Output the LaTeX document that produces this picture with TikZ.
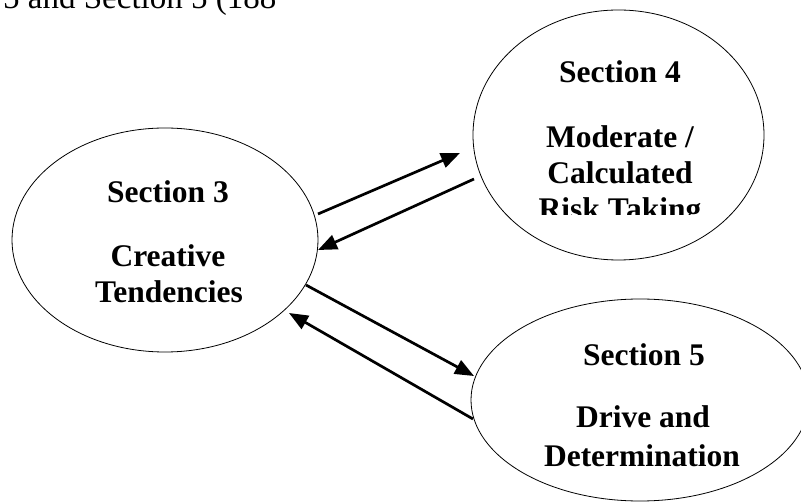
\documentclass[tikz,border=0pt]{standalone}
\usepackage{fontspec}
\setmainfont{Liberation Serif}
\usetikzlibrary{shapes.geometric,arrows.meta}
\tikzset{
  secbox/.style={ellipse, draw, line width=0.8pt, inner sep=0pt, outer sep=0pt},
  secline/.style={anchor=base, inner sep=0pt, font=\fontsize{31.5}{36}\selectfont\bfseries},
  link/.style={line width=2.7pt, -{Triangle[length=19pt,width=15pt]}, shorten >=0pt},
  toptext/.style={anchor=base west, inner sep=0pt, font=\fontsize{33}{38}\selectfont}
}
\begin{document}
\begin{tikzpicture}[x=1pt,y=-1pt]
\clip (0,0) rectangle (801,502);
\fill[white] (0,0) rectangle (801,502);

% caption, cut by the top edge as in the reference
\node[toptext] (cap) at (3,9) {5 and Section 5 (188};

% ellipses
\node[secbox, minimum width=306pt, minimum height=224pt] (s3) at (165,240) {};
\node[secbox, minimum width=291pt, minimum height=250pt] (s4) at (618.5,135) {};
\node[secbox, minimum width=338pt, minimum height=202pt] (s5) at (640,400) {};

% Section 3 text
\node[secline] (s3a) at (168,203) {Section 3};
\node[secline] (s3b) at (168,267) {Creative};
\node[secline] (s3c) at (169,303) {Tendencies};

% Section 4 text (last line clipped)
\begin{scope}
\clip (470,0) rectangle (770,215);
\node[secline] (s4a) at (620,83) {Section 4};
\node[secline] (s4b) at (620,148) {Moderate /};
\node[secline] (s4c) at (620,184) {Calculated};
\node[secline] (s4d) at (620,220) {Risk Taking};
\end{scope}

% Section 5 text
\node[secline] (s5a) at (644,366) {Section 5};
\node[secline] (s5b) at (643,428) {Drive and};
\node[secline] (s5c) at (642,467) {Determination};

% connector end points
\coordinate (a1s) at (318,214);
\coordinate (a1e) at (460,153);
\coordinate (a2s) at (474,179);
\coordinate (a2e) at (318,250);
\coordinate (a3s) at (306,285);
\coordinate (a3e) at (474,376);
\coordinate (a4s) at (473,419);
\coordinate (a4e) at (289,313);

\draw[link] (a1s) -- (a1e);
\draw[link] (a2s) -- (a2e);
\draw[link] (a3s) -- (a3e);
\draw[link] (a4s) -- (a4e);
\end{tikzpicture}
\end{document}
